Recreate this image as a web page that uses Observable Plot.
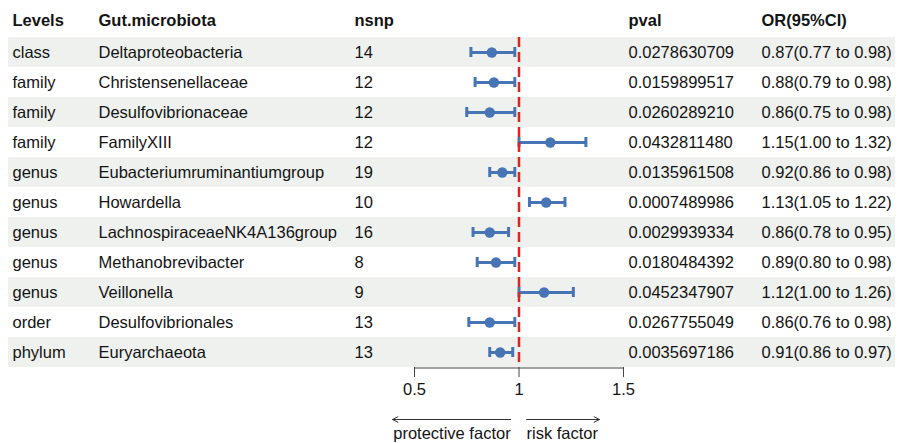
<!DOCTYPE html>
<html><head><meta charset="utf-8">
<script src="https://cdn.jsdelivr.net/npm/d3@7"></script>
<script src="https://cdn.jsdelivr.net/npm/@observablehq/plot@0.6"></script>
<style>body{margin:0;background:#fff} svg{display:block}</style>
</head><body><div id="chart"></div>
<script>
const levels = ["class","family","family","family","genus","genus","genus","genus","genus","order","phylum"];
const taxa = ["Deltaproteobacteria","Christensenellaceae","Desulfovibrionaceae","FamilyXIII","Eubacteriumruminantiumgroup","Howardella","LachnospiraceaeNK4A136group","Methanobrevibacter","Veillonella","Desulfovibrionales","Euryarchaeota"];
const nsnp = [14,12,12,12,19,10,16,8,9,13,13];
const pval = ["0.0278630709","0.0159899517","0.0260289210","0.0432811480","0.0135961508","0.0007489986","0.0029939334","0.0180484392","0.0452347907","0.0267755049","0.0035697186"];
const orVal = [0.87,0.88,0.86,1.15,0.92,1.13,0.86,0.89,1.12,0.86,0.91];
const ciLow = [0.77,0.79,0.75,1.00,0.86,1.05,0.78,0.80,1.00,0.76,0.86];
const ciHigh = [0.98,0.98,0.98,1.32,0.98,1.22,0.95,0.98,1.26,0.98,0.97];
const headers = ["Levels","Gut.microbiota","nsnp","pval","OR(95%CI)"];
const xTicks = [0.5, 1, 1.5];
const arrowLabels = ["protective factor","risk factor"];
const arrowFrom = [0.96, 1.036];
const arrowTo = [0.395, 1.385];

const rows = taxa.map((t, i) => ({
  idx: i, level: levels[i], taxon: t, nsnp: String(nsnp[i]), pval: pval[i],
  or: orVal[i], lo: ciLow[i], hi: ciHigh[i],
  orText: `${orVal[i].toFixed(2)}(${ciLow[i].toFixed(2)} to ${ciHigh[i].toFixed(2)})`
}));
const arrows = arrowLabels.map((l, i) => ({label: l, from: arrowFrom[i], to: arrowTo[i]}));
const lastTaxon = taxa[taxa.length - 1];

const colKeys = ["level","taxon","nsnp","pval","orText"];
const colDx = [12, 98, 354, 628, 761];
const FS = 16.5;
const TXT = "#141414";
const BLUE = "#4674b4";

const colMarks = colKeys.flatMap((k, j) => [
  Plot.text(rows, {y: "taxon", text: k, frameAnchor: "left", dx: colDx[j], textAnchor: "start", lineAnchor: "middle", fontSize: FS, fill: TXT}),
  Plot.text([headers[j]], {text: d => d, frameAnchor: "top-left", dx: colDx[j], dy: -16.5, textAnchor: "start", lineAnchor: "middle", fontSize: FS, fontWeight: "bold", fill: TXT})
]);

const chart = Plot.plot({
  width: 901, height: 443,
  marginLeft: 0, marginRight: 0, marginTop: 37, marginBottom: 76,
  style: {fontFamily: "'Liberation Sans', Arial, sans-serif", background: "#fff"},
  x: {domain: [xTicks[0], xTicks[xTicks.length - 1]], range: [414, 623]},
  y: {domain: taxa, padding: 0, axis: null},
  marks: [
    Plot.cell(rows.filter(d => d.idx % 2 === 0), {y: "taxon", fill: "#eef1ee", insetLeft: 8, insetRight: 6}),
    ...colMarks,
    Plot.ruleY(rows, {y: "taxon", x1: "lo", x2: "hi", stroke: BLUE, strokeWidth: 3}),
    Plot.tickX(rows, {x: "lo", y: "taxon", stroke: BLUE, strokeWidth: 3, insetTop: 10, insetBottom: 10}),
    Plot.tickX(rows, {x: "hi", y: "taxon", stroke: BLUE, strokeWidth: 3, insetTop: 10, insetBottom: 10}),
    Plot.dot(rows, {x: "or", y: "taxon", r: 5.2, fill: BLUE}),
    Plot.ruleX([1], {stroke: "#e8211d", strokeWidth: 2.5, strokeDasharray: "10,5"}),
    Plot.ruleY([lastTaxon], {y: d => d, x1: () => xTicks[0], x2: () => xTicks[xTicks.length - 1], dy: 15.5, stroke: "#444", strokeWidth: 1}),
    Plot.axisX({ticks: xTicks, tickSize: 10, tickPadding: 6, tickFormat: d => String(d), fontSize: FS, stroke: "#444", fill: TXT}),
    Plot.arrow(arrows, {x1: "from", x2: "to", y1: () => lastTaxon, y2: () => lastTaxon, dy: 67, stroke: "#333", strokeWidth: 1, headLength: 9, headAngle: 55}),
    Plot.text(arrows.filter(d => d.to < d.from), {x: "from", text: "label", frameAnchor: "bottom", dy: 66.5, textAnchor: "end", lineAnchor: "middle", fontSize: FS, fill: TXT}),
    Plot.text(arrows.filter(d => d.to > d.from), {x: "from", text: "label", frameAnchor: "bottom", dy: 66.5, textAnchor: "start", lineAnchor: "middle", fontSize: FS, fill: TXT})
  ]
});
document.getElementById("chart").appendChild(chart);
</script>
</body></html>
